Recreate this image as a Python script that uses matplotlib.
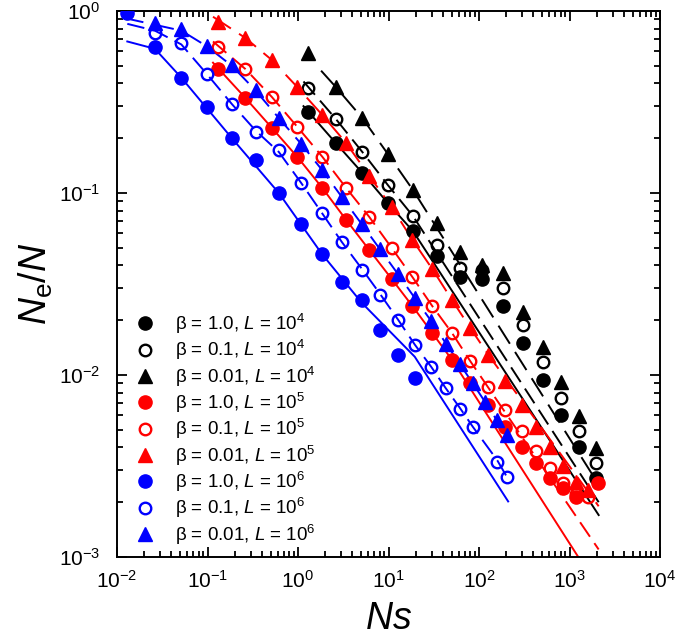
import matplotlib
matplotlib.use("Agg")
import matplotlib.pyplot as plt
from matplotlib.ticker import LogLocator, NullFormatter

plt.rcParams['font.family'] = ['Liberation Sans', 'DejaVu Sans']
plt.rcParams['mathtext.fontset'] = 'custom'
plt.rcParams['mathtext.rm'] = 'Liberation Sans'
plt.rcParams['mathtext.it'] = 'Liberation Sans:italic'
plt.rcParams['mathtext.bf'] = 'Liberation Sans:bold'

# ---------------- data ----------------
# Ns sampling for each system size L
ns_L6 = [0.0130, 0.0262, 0.0514, 0.0982, 0.186, 0.341, 0.614, 1.085, 1.84, 3.05,
         5.04, 8.02, 12.7, 19.5, 29.6, 42.7, 61.4, 85.3, 117, 159, 205]
ns_L5 = [0.130, 0.262, 0.514, 0.982, 1.86, 3.41, 6.14, 10.85, 18.4, 30.5,
         50.4, 80.2, 127, 195, 296, 427, 614, 853, 1170, 1590, 2050]
ns_L4 = [1.30, 2.62, 5.14, 9.82, 18.6, 34.1, 61.4, 108.5, 184, 305,
         504, 802, 1270, 1950]

# L = 1e4 (black)
x_b10_L4 = ns_L4
y_b10_L4 = [0.279, 0.188, 0.129, 0.0881, 0.0618, 0.0451, 0.0345, 0.0337, 0.0239,
            0.0150, 0.00939, 0.00603, 0.00402, 0.00272]
x_b01_L4 = ns_L4
y_b01_L4 = [0.378, 0.255, 0.168, 0.1107, 0.0748, 0.0518, 0.0387, 0.0378, 0.0301,
            0.0188, 0.0118, 0.00748, 0.00492, 0.00328]
x_b001_L4 = ns_L4
y_b001_L4 = [0.588, 0.382, 0.258, 0.164, 0.104, 0.0684, 0.0474, 0.0402, 0.0363,
             0.0222, 0.0143, 0.00916, 0.00596, 0.00397]

# L = 1e5 (red)
x_b10_L5 = [0.130, 0.262, 0.514, 0.982, 1.86, 3.41, 6.14, 10.85, 18.4, 30.5,
            50.4, 80.2, 127, 195, 296, 427, 614, 853, 1170, 2050]
y_b10_L5 = [0.480, 0.333, 0.228, 0.158, 0.1065, 0.0711, 0.0486, 0.0337, 0.0239,
            0.0170, 0.0121, 0.00904, 0.00684, 0.00518, 0.00402, 0.00328, 0.00272,
            0.00239, 0.00214, 0.00255]
x_b01_L5 = ns_L5[:20]
y_b01_L5 = [0.634, 0.480, 0.337, 0.231, 0.158, 0.1065, 0.0738, 0.0499, 0.0345,
            0.0239, 0.0170, 0.0119, 0.00859, 0.00643, 0.00492, 0.00382, 0.00308,
            0.00255, 0.00222, 0.00214]
x_b001_L5 = ns_L5[:20]
y_b001_L5 = [0.871, 0.711, 0.538, 0.382, 0.268, 0.188, 0.124, 0.0838, 0.0552,
             0.0382, 0.0258, 0.0181, 0.0129, 0.00927, 0.00684, 0.00518, 0.00402,
             0.00316, 0.00258, 0.00233]

# L = 1e6 (blue)
x_b10_L6 = ns_L6[:14]
y_b10_L6 = [0.975, 0.634, 0.428, 0.297, 0.200, 0.152, 0.100, 0.0676, 0.0462,
            0.0324, 0.0258, 0.0177, 0.0129, 0.00964]
x_b01_L6 = [0.0262, 0.0514, 0.0982, 0.186, 0.341, 0.614, 1.085, 1.84, 3.05,
            5.04, 8.02, 12.7, 19.5, 29.6, 42.7, 61.4, 85.3, 159, 205]
y_b01_L6 = [0.757, 0.667, 0.451, 0.308, 0.216, 0.172, 0.1135, 0.0776, 0.0538,
            0.0378, 0.0275, 0.0200, 0.0146, 0.01107, 0.00849, 0.00650, 0.00518,
            0.00333, 0.00275]
x_b001_L6 = ns_L6[1:]
y_b001_L6 = [0.859, 0.796, 0.643, 0.505, 0.368, 0.258, 0.186, 0.134, 0.0951,
             0.0676, 0.0492, 0.0359, 0.0265, 0.0198, 0.0148, 0.0115, 0.00904,
             0.00711, 0.00566, 0.00468]

# model curves
lx_b10_L6 = [0.0130, 0.0262, 0.0514, 0.186, 0.614, 1.84, 5.04, 19.5, 210]
ly_b10_L6 = [0.68, 0.62, 0.43, 0.20, 0.100, 0.0462, 0.025, 0.0126, 0.00202]
lx_b01_L6 = [0.0130, 0.0262, 0.0514, 0.0982, 0.186, 0.341, 0.614, 1.085, 1.84,
             3.05, 5.04, 8.02, 12.7, 19.5, 29.6, 42.7, 61.4, 85.3, 159, 210]
ly_b01_L6 = [0.85, 0.78, 0.655, 0.451, 0.308, 0.220, 0.168, 0.1135, 0.0776,
             0.0538, 0.0385, 0.0280, 0.0202, 0.0147, 0.0111, 0.00849, 0.0066,
             0.0052, 0.0034, 0.00268]
lx_b001_L6 = [0.0115, 0.0262, 0.0514, 0.0982, 0.186, 0.341, 0.614, 1.085, 1.84,
              3.05, 5.04, 8.02, 12.7, 19.5, 29.6, 42.7, 61.4, 85.3, 117, 159, 210]
ly_b001_L6 = [0.92, 0.84, 0.78, 0.64, 0.50, 0.365, 0.258, 0.186, 0.134, 0.0951,
              0.0676, 0.0492, 0.0359, 0.0265, 0.0198, 0.0150, 0.0115, 0.0090,
              0.0071, 0.0056, 0.00460]

lx_b10_L5 = [0.115, 0.262, 0.514, 0.982, 1.86, 3.41, 6.14, 10.85, 18.4, 30.5,
             50.4, 1250]
ly_b10_L5 = [0.52, 0.333, 0.228, 0.158, 0.1065, 0.0711, 0.0486, 0.0337, 0.0239,
             0.0170, 0.0121, 0.00100]
lx_b01_L5 = [0.115, 0.262, 0.514, 0.982, 1.86, 3.41, 6.14, 10.85, 18.4, 30.5,
             50.4, 80.2, 2100]
ly_b01_L5 = [0.68, 0.480, 0.337, 0.231, 0.158, 0.1065, 0.0738, 0.0499, 0.0345,
             0.0239, 0.0170, 0.0119, 0.00110]
lx_b001_L5 = [0.115, 0.262, 0.514, 0.982, 1.86, 3.41, 6.14, 10.85, 18.4, 30.5,
              50.4, 80.2, 127, 2100]
ly_b001_L5 = [0.93, 0.711, 0.538, 0.382, 0.268, 0.188, 0.124, 0.0838, 0.0552,
              0.0382, 0.0258, 0.0181, 0.0129, 0.00190]

lx_b10_L4 = [1.15, 2.62, 5.14, 9.82, 18.6, 2100]
ly_b10_L4 = [0.30, 0.188, 0.129, 0.0881, 0.0618, 0.00170]
lx_b01_L4 = [1.15, 2.62, 5.14, 9.82, 18.6, 2100]
ly_b01_L4 = [0.41, 0.255, 0.168, 0.1107, 0.0748, 0.00200]
lx_b001_L4 = [1.8, 2.62, 5.14, 9.82, 18.6, 2100]
ly_b001_L4 = [0.47, 0.382, 0.258, 0.164, 0.104, 0.0025]

# ---------------- plot ----------------
fig = plt.figure(figsize=(6.77, 6.43), dpi=100)
ax = fig.add_axes([117/677, (643-557)/643, (660-117)/677, (557-11)/643])

BLUE = '#0000ff'
RED = '#ff0000'
BLACK = '#000000'
LW = 1.4
DASH1 = (9, 4)
DASH2 = (11, 5)

def curve(x, y, c, dash):
    if dash is None:
        ax.plot(x, y, '-', color=c, lw=LW, zorder=2)
    else:
        ax.plot(x, y, '-', color=c, lw=LW, dashes=dash, zorder=2)

curve(lx_b10_L4, ly_b10_L4, BLACK, None)
curve(lx_b01_L4, ly_b01_L4, BLACK, DASH1)
curve(lx_b001_L4, ly_b001_L4, BLACK, DASH2)
curve(lx_b10_L5, ly_b10_L5, RED, None)
curve(lx_b01_L5, ly_b01_L5, RED, DASH1)
curve(lx_b001_L5, ly_b001_L5, RED, DASH2)
curve(lx_b10_L6, ly_b10_L6, BLUE, None)
curve(lx_b01_L6, ly_b01_L6, BLUE, DASH1)
curve(lx_b001_L6, ly_b001_L6, BLUE, DASH2)

MS = 9.5
def pts(x, y, c, kind, label):
    if kind == 'fill':
        ax.plot(x, y, 'o', ms=MS, mfc=c, mec=c, mew=1.0, ls='none', label=label, zorder=3)
    elif kind == 'open':
        ax.plot(x, y, 'o', ms=MS - 1.2, mfc='none', mec=c, mew=1.7, ls='none', label=label, zorder=3)
    else:
        ax.plot(x, y, '^', ms=MS, mfc=c, mec=c, mew=1.0, ls='none', label=label, zorder=3)

pts(x_b10_L4, y_b10_L4, BLACK, 'fill', 'β = 1.0, $\\mathit{L}$ = 10$^{4}$')
pts(x_b01_L4, y_b01_L4, BLACK, 'open', 'β = 0.1, $\\mathit{L}$ = 10$^{4}$')
pts(x_b001_L4, y_b001_L4, BLACK, 'tri', 'β = 0.01, $\\mathit{L}$ = 10$^{4}$')
pts(x_b10_L5, y_b10_L5, RED, 'fill', 'β = 1.0, $\\mathit{L}$ = 10$^{5}$')
pts(x_b01_L5, y_b01_L5, RED, 'open', 'β = 0.1, $\\mathit{L}$ = 10$^{5}$')
pts(x_b001_L5, y_b001_L5, RED, 'tri', 'β = 0.01, $\\mathit{L}$ = 10$^{5}$')
pts(x_b10_L6, y_b10_L6, BLUE, 'fill', 'β = 1.0, $\\mathit{L}$ = 10$^{6}$')
pts(x_b01_L6, y_b01_L6, BLUE, 'open', 'β = 0.1, $\\mathit{L}$ = 10$^{6}$')
pts(x_b001_L6, y_b001_L6, BLUE, 'tri', 'β = 0.01, $\\mathit{L}$ = 10$^{6}$')

ax.set_xscale('log')
ax.set_yscale('log')
ax.set_xlim(1e-2, 1e4)
ax.set_ylim(1e-3, 1e0)

ax.xaxis.set_major_locator(LogLocator(base=10, numticks=10))
ax.yaxis.set_major_locator(LogLocator(base=10, numticks=10))
ax.xaxis.set_minor_locator(LogLocator(base=10, subs=range(2, 10), numticks=20))
ax.yaxis.set_minor_locator(LogLocator(base=10, subs=range(2, 10), numticks=20))
ax.xaxis.set_minor_formatter(NullFormatter())
ax.yaxis.set_minor_formatter(NullFormatter())

ax.tick_params(which='both', direction='in', top=True, right=True, labelsize=15, width=1.3)
ax.tick_params(which='major', length=7)
ax.tick_params(axis='x', which='major', pad=9)
ax.tick_params(axis='y', which='major', pad=12)
ax.tick_params(which='minor', length=4)
for s in ax.spines.values():
    s.set_linewidth(1.4)

ax.set_xlabel('$\\mathit{Ns}$', fontsize=27, labelpad=7)
ax.set_ylabel('$\\mathit{N}_{\\rm e}/\\mathit{N}$', fontsize=27, labelpad=3)

leg = ax.legend(loc='lower left', bbox_to_anchor=(0.011, 0.0), frameon=False, fontsize=13.5,
                handletextpad=1.05, labelspacing=0.12, handlelength=1.2, borderaxespad=0.35,
                borderpad=0.2)

fig.savefig('out.png', dpi=100)
